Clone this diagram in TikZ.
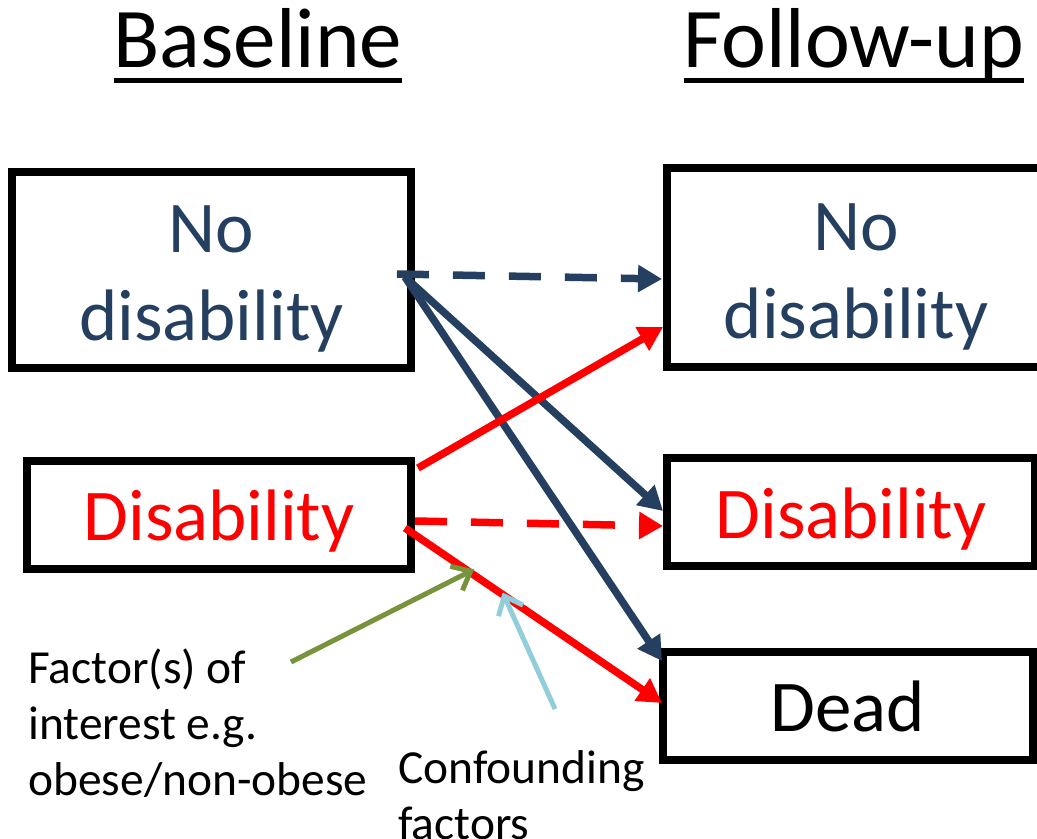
\documentclass[tikz,border=0pt]{standalone}
\usepackage{fontspec}
\setmainfont{Carlito}
\usetikzlibrary{positioning, arrows.meta}
\definecolor{navy}{HTML}{243F60}
\definecolor{olive}{HTML}{77933C}
\definecolor{skyline}{HTML}{92CDDC}
\newcommand{\ulhead}[1]{\setbox0\hbox{#1}\rlap{\rule[-0.3cm]{\wd0}{0.1cm}}\box0}

\begin{document}
\begin{tikzpicture}[x=0.02cm, y=-0.02cm,
  box/.style={draw, line width=0.16cm, inner sep=0pt, outer sep=0pt, align=center, font=\fontsize{41.5}{50}\selectfont},
  head/.style={font=\fontsize{48.4}{58}\selectfont, anchor=base},
  note/.style={font=\fontsize{27}{32}\selectfont, align=left, inner sep=0pt, anchor=north west},
  flow/.style={line width=0.15cm, -{Triangle[length=0.48cm, width=0.52cm]}},
  hint/.style={line width=0.1cm, -{Straight Barb[length=0.32cm, width=0.54cm]}},
  gap/.style={dash pattern=on 0.64cm off 0.48cm}]
\useasboundingbox (0,0) rectangle (1037,838);
\node[head] (base) at (258,68) {\ulhead{Baseline}};
\node[head] (follow) at (854,68) {\ulhead{Follow-up}};
\node[box, text=navy, text height=87pt, minimum width=7.98cm, minimum height=3.92cm] (bnodis) at (211.5,270) {No\\disability};
\node[box, text=red, text height=36pt, minimum width=7.68cm, minimum height=2.16cm] (bdis) at (219,515) {Disability};
\node[box, text=navy, text height=87pt, minimum width=7.56cm, minimum height=3.98cm] (fnodis) at (856,267.5) {No\\disability};
\node[box, text=red, text height=37pt, minimum width=7.36cm, minimum height=2.16cm] (fdis) at (851,512) {Disability};
\node[box, minimum width=7.40cm, minimum height=2.16cm] (fdead) at (848,706) {Dead};
\node[note] (factor) at (28,648) {Factor(s) of\\interest e.g.\\obese/non-obese};
\node[note] (confound) at (398,750) {Confounding\\factors};
\coordinate (gstart) at (291,662);
\coordinate (cstart) at (555,709);
\draw[flow, navy, gap] ([shift={(-14,4)}]bnodis.east) -- ([shift={(-5,11.5)}]fnodis.west);
\draw[flow, navy] ([shift={(-6,7)}]bnodis.east) -- ([shift={(-4,-1)}]fdis.west);
\draw[flow, navy] ([shift={(-6,7)}]bnodis.east) -- ([shift={(-1,-45)}]fdead.west);
\draw[flow, red] ([shift={(7,7)}]bdis.north east) -- ([shift={(-4,59.5)}]fnodis.west);
\draw[flow, red, gap] ([shift={(4,6)}]bdis.east) -- ([shift={(-4,14)}]fdis.west);
\draw[flow, red] ([shift={(-6,13)}]bdis.east) -- coordinate[pos=0.265] (gfoot) coordinate[pos=0.38] (cfoot) ([shift={(-1,-3)}]fdead.west);
\draw[hint, olive] (gstart) -- ([shift={(1,-5)}]gfoot);
\draw[hint, skyline] (cstart) -- ([shift={(0,-2)}]cfoot);
\end{tikzpicture}
\end{document}
